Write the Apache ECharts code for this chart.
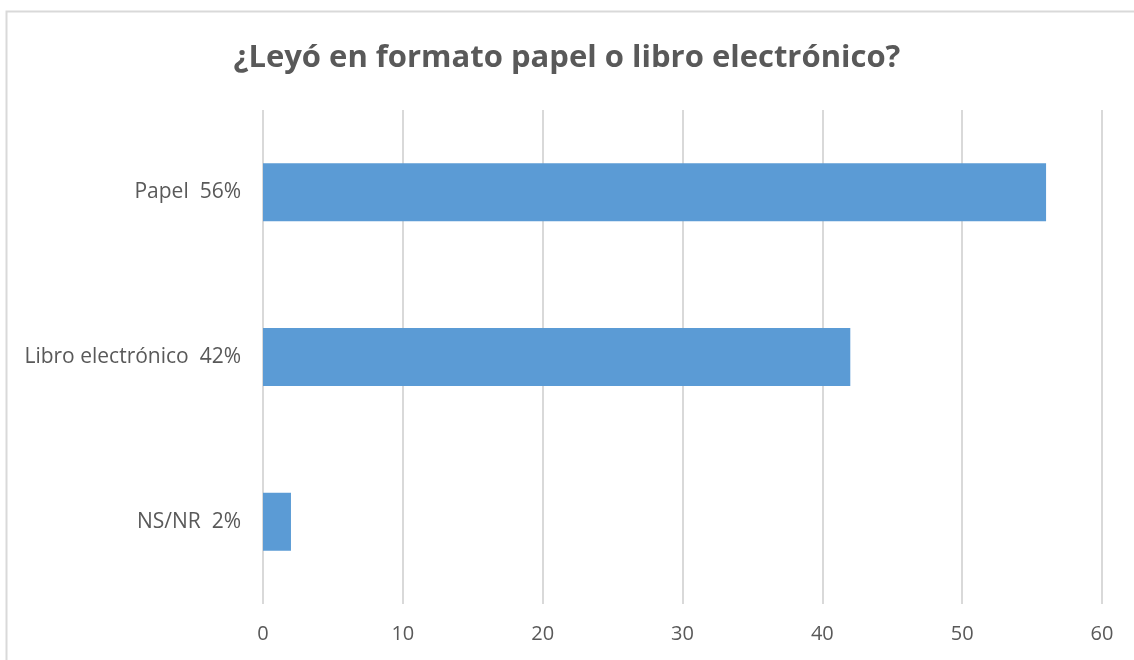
<!DOCTYPE html>
<html><head><meta charset="utf-8">
<script src="https://cdn.jsdelivr.net/npm/echarts@6/dist/echarts.min.js"></script>
<style>html,body{margin:0;padding:0;background:#fff}#c{width:1134px;height:660px}</style>
</head><body><div id="c"></div>
<script>
const titleText = '¿Leyó en formato papel o libro electrónico?';
const categories = ['Papel  56%', 'Libro electrónico  42%', 'NS/NR  2%'];
const values = [56, 42, 2];
const xTicks = [0, 10, 20, 30, 40, 50, 60];

const chart = echarts.init(document.getElementById('c'), null, {renderer: 'canvas'});
chart.setOption({
  animation: false,
  backgroundColor: '#fff',
  graphic: [{
    type: 'rect', shape: {x: 6.5, y: 11.5, width: 1140, height: 660},
    style: {fill: 'none', stroke: '#d9d9d9', lineWidth: 2}, silent: true
  }],
  title: {
    text: titleText, left: 'center', top: 38,
    textStyle: {fontFamily: 'Open Sans', fontWeight: 'bold', fontSize: 31, color: '#595959'}
  },
  grid: {left: 263, right: 32, top: 110, bottom: 56, containLabel: false},
  xAxis: {
    type: 'value', min: xTicks[0], max: xTicks[xTicks.length - 1], interval: 10,
    axisLine: {show: false}, axisTick: {show: false},
    axisLabel: {fontFamily: 'Open Sans', fontSize: 20, color: '#595959', margin: 20},
    splitLine: {lineStyle: {color: '#d9d9d9', width: 2}}
  },
  yAxis: {
    type: 'category', data: categories, inverse: true,
    axisLine: {show: false}, axisTick: {show: false},
    axisLabel: {fontFamily: 'Open Sans', fontSize: 21, color: '#595959', margin: 22}
  },
  series: [{
    type: 'bar', data: values, barWidth: 58,
    itemStyle: {color: '#5b9bd5'}
  }]
});
</script></body></html>
